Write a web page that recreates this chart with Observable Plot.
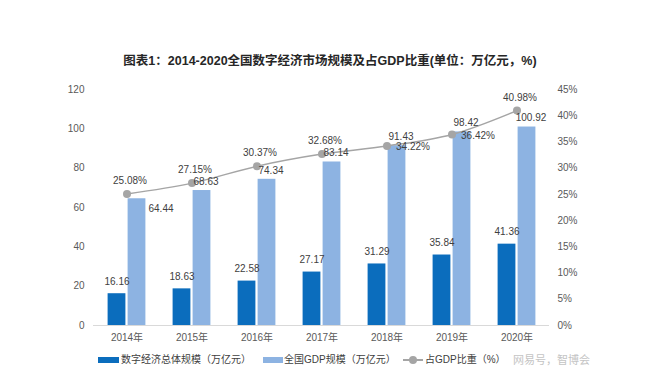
<!DOCTYPE html>
<html><head><meta charset="utf-8">
<script src="https://cdn.jsdelivr.net/npm/d3@7"></script>
<script src="https://cdn.jsdelivr.net/npm/@observablehq/plot@0.6"></script>
<style>
body{margin:0;background:#fff;font-family:"Liberation Sans","Noto Sans CJK SC",sans-serif;}
#wrap{position:relative;width:660px;height:378px;overflow:hidden;background:#fff;}
#title{position:absolute;top:53px;left:0;width:660px;text-align:center;font-weight:bold;font-size:12.5px;line-height:16px;color:#262626;}
#chart{position:absolute;top:80px;left:0;}
.lg{position:absolute;top:352px;height:16px;line-height:16px;font-size:10px;color:#404040;white-space:nowrap;}
.sw{position:absolute;top:357px;height:6px;}
</style></head>
<body>
<div id="wrap">
  <div id="title">图表1：2014-2020全国数字经济市场规模及占GDP比重(单位：万亿元，%)</div>
  <div id="chart"></div>
  <div class="sw" style="left:98px;width:21px;background:#0b6dbd"></div>
  <div class="lg" style="left:121px">数字经济总体规模（万亿元）</div>
  <div class="sw" style="left:263px;width:20px;background:#8db3e2"></div>
  <div class="lg" style="left:284px">全国GDP规模（万亿元）</div>
  <div style="position:absolute;left:403px;top:359px;width:20px;height:2px;background:#a5a5a5"></div>
  <div style="position:absolute;left:409px;top:356px;width:8px;height:8px;border-radius:4px;background:#a5a5a5"></div>
  <div class="lg" style="left:425px">占GDP比重（%）</div>
  <div class="lg" style="left:513px;color:#c4c4c4;font-size:11px">网易号，智博会</div>
</div>
<script>
const years = ["2014年","2015年","2016年","2017年","2018年","2019年","2020年"];
const digitalEconomy = [16.16,18.63,22.58,27.17,31.29,35.84,41.36];
const gdpScale = [64.44,68.63,74.34,83.14,91.43,98.42,100.92];
const gdpShare = [25.08,27.15,30.37,32.68,34.22,36.42,40.98];
const leftTicks = [0,20,40,60,80,100,120];
const rightTicks = [0,5,10,15,20,25,30,35,40,45];
// labels placed beside (not above) their marks
const gdpLabelBeside = ["2014年"];
const shareLabelBeside = ["2018年","2019年"];

const data = years.map((year,i)=>({year, digital: digitalEconomy[i], gdp: gdpScale[i], share: gdpShare[i]}));
const k = 120/45;
const lab = "#404040";
const fnt = "Liberation Sans, Noto Sans CJK SC, sans-serif";

const chart = Plot.plot({
  width: 660, height: 270,
  marginTop: 9, marginBottom: 25, marginLeft: 93, marginRight: 111,
  style: {fontFamily: fnt, fontSize: "10px", color: "#595959", background: "transparent"},
  x: {domain: years, padding: 0},
  y: {domain: [0,120]},
  marks: [
    Plot.axisX({tickSize: 0, tickPadding: 8, label: null}),
    Plot.axisY({anchor: "left", ticks: leftTicks, tickSize: 0, tickPadding: 9, label: null}),
    Plot.axisY({anchor: "right", ticks: rightTicks.map(p=>p*k), tickFormat: v => Math.round(v/k)+"%", tickSize: 0, tickPadding: 8, label: null}),
    Plot.ruleY([0], {stroke: "#d9d9d9"}),
    Plot.barY(data, {x: "year", y: "digital", fill: "#0b6dbd", insetLeft: 13.6, insetRight: 33.6}),
    Plot.barY(data, {x: "year", y: "gdp", fill: "#8db3e2", insetLeft: 33.6, insetRight: 13.6}),
    Plot.line(data, {x: "year", y: d => d.share*k, stroke: "#a5a5a5", strokeWidth: 1.5, curve: "monotone-x"}),
    Plot.dot(data, {x: "year", y: d => d.share*k, r: 4, fill: "#a5a5a5"}),
    Plot.text(data, {x: "year", y: "digital", text: d => d.digital.toFixed(2), dx: -10, dy: -12, fill: lab, fontSize: 10}),
    Plot.text(data.filter(d => !gdpLabelBeside.includes(d.year)), {x: "year", y: "gdp", text: d => d.gdp.toFixed(2), dx: 14, dy: -9, fill: lab, fontSize: 10}),
    Plot.text(data.filter(d => gdpLabelBeside.includes(d.year)), {x: "year", y: "gdp", text: d => d.gdp.toFixed(2), dx: 34, dy: 10, fill: lab, fontSize: 10}),
    Plot.text(data.filter(d => !shareLabelBeside.includes(d.year)), {x: "year", y: d => d.share*k, text: d => d.share.toFixed(2)+"%", dx: 3, dy: -13, fill: lab, fontSize: 10}),
    Plot.text(data.filter(d => shareLabelBeside.includes(d.year)), {x: "year", y: d => d.share*k, text: d => d.share.toFixed(2)+"%", dx: 26, dy: 1, fill: lab, fontSize: 10})
  ]
});
document.getElementById("chart").appendChild(chart);
</script>
</body></html>
